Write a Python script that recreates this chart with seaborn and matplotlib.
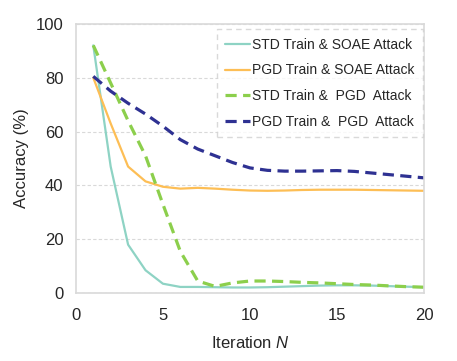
import pandas as pd
import seaborn as sns
import matplotlib
matplotlib.use("Agg")
import matplotlib.pyplot as plt

# values
iterations = list(range(1, 21))
std_soae = [92, 47, 18, 8.5, 3.5, 2.3, 2.3, 2.2, 2.1, 2.1,
            2.2, 2.4, 2.6, 2.8, 2.9, 2.9, 2.8, 2.6, 2.4, 2.2]
pgd_soae = [80, 63, 47, 41.5, 39.5, 38.8, 39.1, 38.8, 38.4, 38.1,
            38.0, 38.1, 38.3, 38.4, 38.4, 38.4, 38.3, 38.2, 38.1, 38.0]
std_pgd = [92, 78, 64, 51, 33, 15.5, 4.5, 2.5, 3.8, 4.5,
           4.5, 4.3, 4.0, 3.8, 3.5, 3.2, 3.0, 2.7, 2.4, 2.2]
pgd_pgd = [80.5, 75, 70.5, 66.5, 62, 57, 53.5, 51, 48.5, 46.5,
           45.6, 45.3, 45.3, 45.4, 45.5, 45.2, 44.6, 44.0, 43.4, 42.8]

labels = ["STD Train & SOAE Attack", "PGD Train & SOAE Attack",
          "STD Train &  PGD  Attack", "PGD Train &  PGD  Attack"]
colors = ["#8ed3c4", "#fdbe55", "#8ccf4c", "#2e3192"]

df = pd.DataFrame({"Iteration": iterations,
                   labels[0]: std_soae, labels[1]: pgd_soae,
                   labels[2]: std_pgd, labels[3]: pgd_pgd})
long = df.melt(id_vars="Iteration", var_name="Setting", value_name="Accuracy")

sns.set_style("white")
plt.rcParams["font.family"] = ["Liberation Sans", "DejaVu Sans"]
plt.rcParams["mathtext.fontset"] = "custom"
plt.rcParams["mathtext.it"] = "Liberation Sans:italic"
plt.rcParams["mathtext.rm"] = "Liberation Sans"

fig = plt.figure(figsize=(4.57, 3.61), dpi=100)
ax = fig.add_axes([0.166, 0.188, 0.762, 0.746])

sns.lineplot(data=long, x="Iteration", y="Accuracy", hue="Setting",
             style="Setting", hue_order=labels, style_order=labels,
             palette=colors, dashes=["", "", (3.5, 2), (3.5, 2)],
             ax=ax)
widths = [1.6, 1.6, 2.3, 2.3]
for line, w in zip(ax.get_lines(), widths):
    line.set_linewidth(w)

ax.set_xlim(0, 20)
ax.set_ylim(0, 100)
ax.set_xticks([0, 5, 10, 15, 20])
ax.set_yticks([0, 20, 40, 60, 80, 100])
ax.tick_params(length=0, labelsize=12)
ax.tick_params(axis="x", pad=11)
ax.tick_params(axis="y", pad=9)
ax.yaxis.grid(True, color="#d9d9d9", linestyle=(0, (3, 2)), linewidth=0.8)
ax.set_axisbelow(True)
for s in ax.spines.values():
    s.set_color("#d9d9d9")
    s.set_linewidth(1.2)

ax.set_xlabel("Iteration $N$", fontsize=12, labelpad=8)
ax.set_ylabel("Accuracy (%)", fontsize=12, labelpad=5)

handles, lbls = ax.get_legend_handles_labels()
for h, w in zip(handles, widths):
    h.set_linewidth(w)
leg = ax.legend(handles, lbls, loc="upper right", bbox_to_anchor=(1.0, 0.985),
                fontsize=10, frameon=True, fancybox=False,
                handlelength=1.8, handletextpad=0.1, labelspacing=0.85,
                borderpad=0.6, borderaxespad=0.1)
frame = leg.get_frame()
frame.set_edgecolor("#d0d0d0")
frame.set_linestyle((0, (4, 3)))
frame.set_linewidth(1.0)

fig.savefig("out.png", dpi=100)
